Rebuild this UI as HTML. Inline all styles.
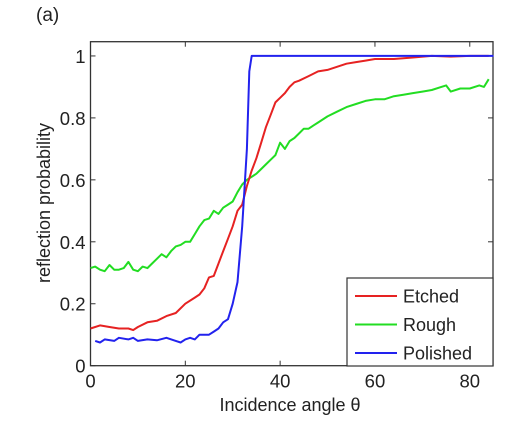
<!DOCTYPE html>
<html><head><meta charset="utf-8"><style>
html,body{margin:0;padding:0;background:#fff;}
svg{display:block;font-family:"Liberation Sans",Arial,sans-serif;}
</style></head><body>
<svg id="chart" width="522" height="430" viewBox="0 0 522 430">
<text x="36" y="21" font-size="19" fill="#222">(a)</text>
<g id="plot"></g>
</svg>
<script>
const xTicks=[0,20,40,60,80];
const yTicks=[0,0.2,0.4,0.6,0.8,1];
const yTickLabels=["0","0.2","0.4","0.6","0.8","1"];
const etchedX=[0,2,4,6,8,9,10,12,14,16,18,20,22,23,24,25,26,27,28,29,30,31,32,33,34,35,36,37,38,39,40,41,42,43,44,46,48,50,52,54,56,58,60,64,68,72,76,80,84];
const etchedY=[0.12,0.13,0.125,0.12,0.12,0.115,0.125,0.14,0.145,0.16,0.17,0.2,0.22,0.23,0.25,0.285,0.29,0.33,0.37,0.41,0.45,0.5,0.52,0.58,0.63,0.67,0.72,0.77,0.81,0.85,0.865,0.88,0.9,0.915,0.92,0.935,0.95,0.955,0.965,0.975,0.98,0.985,0.99,0.99,0.995,1.0,0.998,1.0,1.0];
const roughX=[0,1,2,3,4,5,6,7,8,9,10,11,12,13,14,15,16,17,18,19,20,21,22,23,24,25,26,27,28,29,30,31,32,33,34,35,36,37,38,39,40,41,42,43,44,45,46,47,48,50,52,54,56,58,60,62,64,66,68,70,72,74,75,76,78,80,82,83,84];
const roughY=[0.315,0.32,0.31,0.305,0.325,0.31,0.31,0.315,0.335,0.31,0.305,0.32,0.315,0.33,0.345,0.36,0.35,0.37,0.385,0.39,0.4,0.4,0.425,0.45,0.47,0.475,0.5,0.49,0.51,0.52,0.53,0.56,0.585,0.6,0.61,0.62,0.635,0.65,0.665,0.68,0.72,0.7,0.725,0.735,0.75,0.765,0.765,0.775,0.785,0.805,0.82,0.835,0.845,0.855,0.86,0.86,0.87,0.875,0.88,0.885,0.89,0.9,0.905,0.885,0.895,0.895,0.905,0.9,0.925];
const polishedX=[1,2,3,5,6,8,9,10,12,14,16,18,19,20,21,22,23,25,26,27,28,29,30,31,32,33,33.5,34,85];
const polishedY=[0.08,0.075,0.085,0.08,0.09,0.085,0.09,0.08,0.085,0.082,0.09,0.08,0.075,0.085,0.09,0.085,0.1,0.1,0.11,0.12,0.14,0.15,0.2,0.27,0.45,0.7,0.95,1.0,1.0];
const seriesNames=["Etched","Rough","Polished"];

const L=90.5,R=493,T=41.7,B=365.7,xMax=84.9,yMax=1.046;
const sx=v=>L+(v/xMax)*(R-L);
const sy=v=>B-(v/yMax)*(B-T);
const NS="http://www.w3.org/2000/svg";
const g=document.getElementById('plot');
function mk(tag,attrs,parent){const e=document.createElementNS(NS,tag);for(const k in attrs)e.setAttribute(k,attrs[k]);(parent||g).appendChild(e);return e;}

const frame=mk('rect',{x:L,y:T,width:R-L,height:B-T,fill:'none',stroke:'#333','stroke-width':1.3});



xTicks.forEach(v=>{
  const x=sx(v);
  const t1=mk('line',{x1:x,x2:x,y1:B,y2:B-5,stroke:'#333'});
  
  
  const t2=mk('line',{x1:x,x2:x,y1:T,y2:T+5,stroke:'#333'});
  
  
  const lb=mk('text',{x:x,y:B+22,'font-size':18.5,'text-anchor':'middle',fill:'#222'});
  lb.textContent=String(v);
  
  
});
yTicks.forEach((v,i)=>{
  const y=sy(v);
  const t1=mk('line',{x1:L,x2:L+5,y1:y,y2:y,stroke:'#333'});
  
  
  const t2=mk('line',{x1:R,x2:R-5,y1:y,y2:y,stroke:'#333'});
  
  
  const lb=mk('text',{x:L-5,y:y+7,'font-size':18.5,'text-anchor':'end',fill:'#222'});
  lb.textContent=yTickLabels[i];
  
  
});

const xt=mk('text',{x:290,y:411,'font-size':18,'text-anchor':'middle',fill:'#222'});
xt.textContent='Incidence angle θ';


const yt=mk('text',{x:0,y:0,'font-size':18,'text-anchor':'middle',fill:'#222',transform:'translate(50,203) rotate(-90)'});
yt.textContent='reflection probability';



function line(xs,ys,color,name){
  const d=xs.map((x,i)=>(i?'L':'M')+sx(x).toFixed(1)+','+sy(ys[i]).toFixed(1)).join(' ');
  const p=mk('path',{d:d,fill:'none',stroke:color,'stroke-width':2,'stroke-linejoin':'round'});
  
  
}
line(roughX,roughY,'#22dd22','rough-line');
line(etchedX,etchedY,'#e62222','etched-line');
line(polishedX,polishedY,'#2222ee','polished-line');

const lg=mk('g',{});


mk('rect',{x:347,y:278,width:146,height:88,fill:'#fff',stroke:'#333','stroke-width':1.2},lg);
const cols=['#e62222','#22dd22','#2222ee'];
seriesNames.forEach((n,i)=>{
  const y=296+i*28.5;
  const e=mk('g',{},lg);
  
  
  mk('line',{x1:355,x2:397,y1:y,y2:y,stroke:cols[i],'stroke-width':2},e);
  const t=mk('text',{x:403,y:y+6.5,'font-size':18,fill:'#222'},e);
  t.textContent=n;
});
</script>
</body></html>
